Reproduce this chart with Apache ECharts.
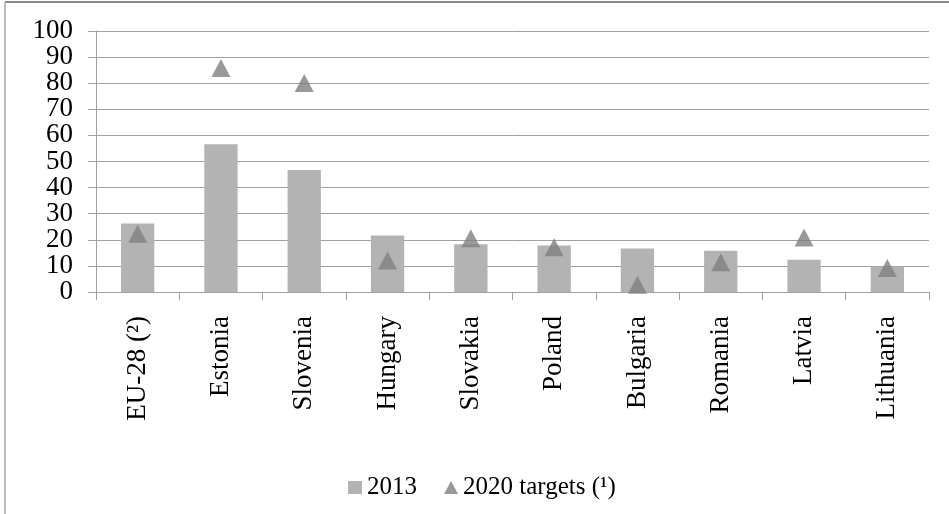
<!DOCTYPE html>
<html>
<head>
<meta charset="utf-8">
<script src="https://cdn.jsdelivr.net/npm/echarts@6/dist/echarts.min.js"></script>
<style>
  html, body { margin: 0; padding: 0; background: #ffffff; }
  #chart { width: 949px; height: 514px; }
</style>
</head>
<body>
<div id="chart"></div>
<script>
// Countries shown along the category axis
const categories = ['EU-28 (\u00B2)', 'Estonia', 'Slovenia', 'Hungary', 'Slovakia', 'Poland', 'Bulgaria', 'Romania', 'Latvia', 'Lithuania'];
// 2013 values (bars)
const values2013 = [26.2, 56.6, 46.7, 21.6, 18.3, 17.8, 16.7, 15.8, 12.4, 9.8];
// 2020 targets (triangle markers)
const targets2020 = [22.3, 85.8, 80.1, 12.1, 20.6, 17.1, 2.8, 11.4, 20.9, 9.2];
// Value axis ticks
const yTicks = [0, 10, 20, 30, 40, 50, 60, 70, 80, 90, 100];

const serif = '"Liberation Serif", "Times New Roman", serif';
const chart = echarts.init(document.getElementById('chart'), null, { renderer: 'canvas' });

chart.setOption({
  animation: false,
  backgroundColor: '#ffffff',
  textStyle: { fontFamily: serif },
  grid: { left: 96, right: 20, top: 31, bottom: 222, containLabel: false },
  legend: {
    top: 470,
    left: 343,
    itemGap: 27,
    itemWidth: 14,
    itemHeight: 13,
    textStyle: { fontFamily: serif, fontSize: 25, color: '#000000' },
    data: [
      { name: '2013', icon: 'rect', itemStyle: { color: '#b3b3b3' } },
      { name: '2020 targets (\u00B9)', icon: 'triangle', itemStyle: { color: '#7f7f7f' } }
    ]
  },
  xAxis: {
    type: 'category',
    data: categories,
    boundaryGap: true,
    axisLine: { lineStyle: { color: '#a0a0a0', width: 1 } },
    axisTick: { show: true, alignWithLabel: false, length: 8, lineStyle: { color: '#a0a0a0' } },
    axisLabel: {
      rotate: 90,
      margin: 24,
      fontFamily: serif,
      fontSize: 27,
      color: '#000000',
      interval: 0
    }
  },
  yAxis: [
    {
      // value scale used by the series; its labels are printed by the companion axis below
      type: 'value',
      min: yTicks[0],
      max: yTicks[yTicks.length - 1],
      interval: 10,
      axisLine: { show: true, lineStyle: { color: '#a0a0a0', width: 1 } },
      axisTick: { show: true, length: 8, lineStyle: { color: '#a0a0a0' } },
      axisLabel: { show: false },
      splitLine: { show: true, lineStyle: { color: '#a0a0a0', width: 1 } }
    },
    {
      // tick labels 0..100, one per gridline, all forced visible
      type: 'category',
      position: 'left',
      data: yTicks.map(String),
      boundaryGap: false,
      axisLine: { show: false },
      axisTick: { show: false },
      splitLine: { show: false },
      axisLabel: {
        interval: 0,
        margin: 23,
        fontFamily: serif,
        fontSize: 27,
        color: '#000000'
      }
    }
  ],
  series: [
    {
      name: '2013',
      type: 'bar',
      data: values2013,
      barWidth: '40%',
      itemStyle: { color: '#b3b3b3' },
      z: 2
    },
    {
      name: '2020 targets (\u00B9)',
      type: 'scatter',
      data: targets2020,
      symbol: 'triangle',
      symbolSize: [19, 18],
      itemStyle: { color: '#7f7f7f' },
      z: 3
    }
  ],
  graphic: [
    { type: 'line', shape: { x1: 5, y1: 2, x2: 949, y2: 2 }, style: { stroke: '#8a8a8a', lineWidth: 2 } },
    { type: 'line', shape: { x1: 5, y1: 2, x2: 5, y2: 514 }, style: { stroke: '#bdbdbd', lineWidth: 2 } }
  ]
});
</script>
</body>
</html>
